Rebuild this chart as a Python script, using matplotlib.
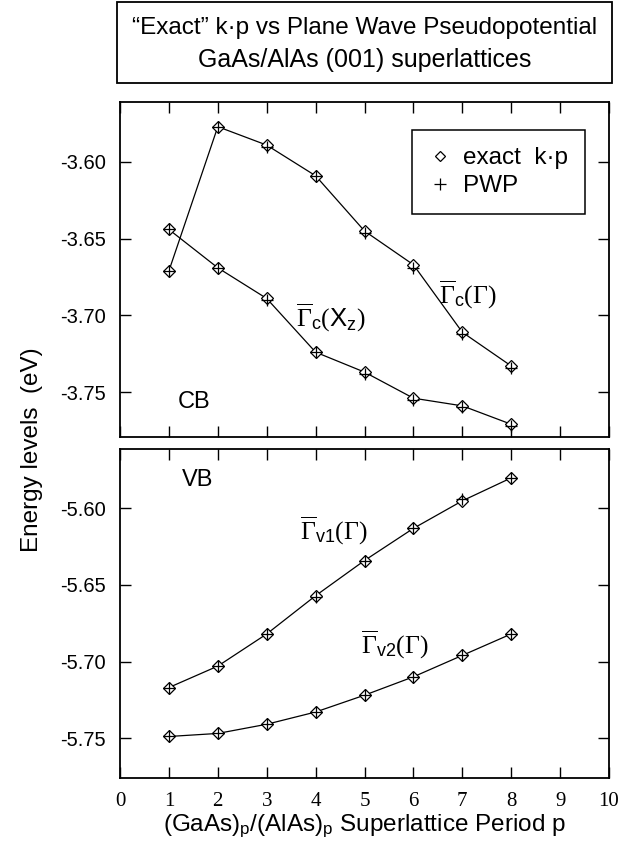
import matplotlib
matplotlib.use('Agg')
import matplotlib.pyplot as plt
from matplotlib.lines import Line2D
from matplotlib.patches import Rectangle

plt.rcParams['font.family'] = 'Liberation Sans'
plt.rcParams['mathtext.fontset'] = 'custom'
plt.rcParams['mathtext.rm'] = 'Liberation Serif'
plt.rcParams['mathtext.sf'] = 'Liberation Sans'
plt.rcParams['mathtext.it'] = 'Liberation Serif:italic'

# superlattice period
p = [1, 2, 3, 4, 5, 6, 7, 8]

# conduction band levels (eV)
cb_gamma_kp = [-3.671, -3.577, -3.589, -3.609, -3.645, -3.667, -3.711, -3.733]
cb_gamma_pwp = [-3.671, -3.577, -3.590, -3.609, -3.646, -3.669, -3.712, -3.734]
cb_xz_kp = [-3.644, -3.669, -3.689, -3.724, -3.737, -3.754, -3.759, -3.771]
cb_xz_pwp = [-3.644, -3.669, -3.690, -3.724, -3.738, -3.755, -3.760, -3.772]

# valence band levels (eV)
vb1_kp = [-5.717, -5.703, -5.682, -5.657, -5.634, -5.613, -5.595, -5.580]
vb1_pwp = [-5.717, -5.703, -5.682, -5.658, -5.634, -5.613, -5.594, -5.580]
vb2_kp = [-5.749, -5.747, -5.741, -5.733, -5.722, -5.710, -5.696, -5.682]
vb2_pwp = [-5.749, -5.747, -5.741, -5.733, -5.722, -5.710, -5.696, -5.682]

xticks = list(range(0, 11))
cb_ticks = [-3.60, -3.65, -3.70, -3.75]
vb_ticks = [-5.60, -5.65, -5.70, -5.75]

fig = plt.figure(figsize=(6.39, 8.55), dpi=100)

# title box
fig.patches.append(Rectangle((0.1831, 0.9029), 0.7746, 0.0947, transform=fig.transFigure,
                             fill=False, edgecolor='black', linewidth=1.3))
fig.text(0.5704, 0.9673, '\u201cExact\u201d k\u00b7p vs Plane Wave Pseudopotential',
         ha='center', va='center', fontsize=17.5)
fig.text(0.5704, 0.9298, 'GaAs/AlAs (001) superlattices', ha='center', va='center', fontsize=18)

ax1 = fig.add_axes([0.1878, 0.4889, 0.7653, 0.3918])
ax2 = fig.add_axes([0.1878, 0.0901, 0.7653, 0.3848])


def draw(ax, kp, pwp):
    ax.plot(p, kp, color='black', linewidth=0.9, marker='D', markersize=6.5,
            markerfacecolor='white', markeredgecolor='black', markeredgewidth=0.9)
    ax.plot(p, pwp, linestyle='none', marker='+', markersize=9,
            markeredgecolor='black', markeredgewidth=0.9)


draw(ax1, cb_gamma_kp, cb_gamma_pwp)
draw(ax1, cb_xz_kp, cb_xz_pwp)
draw(ax2, vb1_kp, vb1_pwp)
draw(ax2, vb2_kp, vb2_pwp)

ax1.set_ylim(-3.7793, -3.5609)
ax2.set_ylim(-5.7761, -5.5611)
ax1.set_yticks(cb_ticks)
ax2.set_yticks(vb_ticks)
ax1.set_yticklabels(['%.2f' % v for v in cb_ticks])
ax2.set_yticklabels(['%.2f' % v for v in vb_ticks])

for ax in (ax1, ax2):
    ax.set_xlim(0, 10)
    ax.set_xticks(xticks)
    ax.tick_params(direction='in', length=8, width=1, top=True, right=True,
                   labelsize=14.5, pad=10)
    for s in ax.spines.values():
        s.set_linewidth(1.3)

ax1.tick_params(labelbottom=False)
ax2.set_xticklabels([str(v) for v in xticks], family='Liberation Serif', fontsize=15)

# curve labels
ax1.text(3.6, -3.7017, r'$\overline{\Gamma}_{\mathsf{c}}(\mathsf{X_z})$', fontsize=18.5, va='center')
ax1.text(6.52, -3.6867, r'$\overline{\Gamma}_{\mathsf{c}}(\Gamma)$', fontsize=18.5, va='center')
ax2.text(3.69, -5.6147, r'$\overline{\Gamma}_{\mathsf{v1}}(\Gamma)$', fontsize=18.5, va='center')
ax2.text(4.92, -5.6892, r'$\overline{\Gamma}_{\mathsf{v2}}(\Gamma)$', fontsize=18.5, va='center')
ax1.text(1.19, -3.7565, 'CB', fontsize=17, va='center')
ax2.text(1.27, -5.5814, 'VB', fontsize=17, va='center')

handles = [Line2D([], [], linestyle='none', marker='D', markersize=5, markerfacecolor='white',
                  markeredgecolor='black', markeredgewidth=0.9),
           Line2D([], [], linestyle='none', marker='+', markersize=9,
                  markeredgecolor='black', markeredgewidth=0.9)]
leg = ax1.legend(handles, ['exact  k\u00b7p', 'PWP'], loc='upper right',
                 bbox_to_anchor=(0.951, 0.916), borderaxespad=0, fontsize=17.5,
                 fancybox=False, framealpha=1, edgecolor='black', borderpad=0.7,
                 handlelength=0.9, handletextpad=0.5, labelspacing=0.25)
leg.get_frame().set_linewidth(1.1)

fig.text(0.05, 0.474, 'Energy levels  (eV)', rotation=90, ha='center', va='center', fontsize=17.5)
fig.text(0.57, 0.034, r'(GaAs)$_{\mathsf{p}}$/(AlAs)$_{\mathsf{p}}$ Superlattice Period p',
         ha='center', va='center', fontsize=17.5)

fig.savefig('out.png', dpi=100)
